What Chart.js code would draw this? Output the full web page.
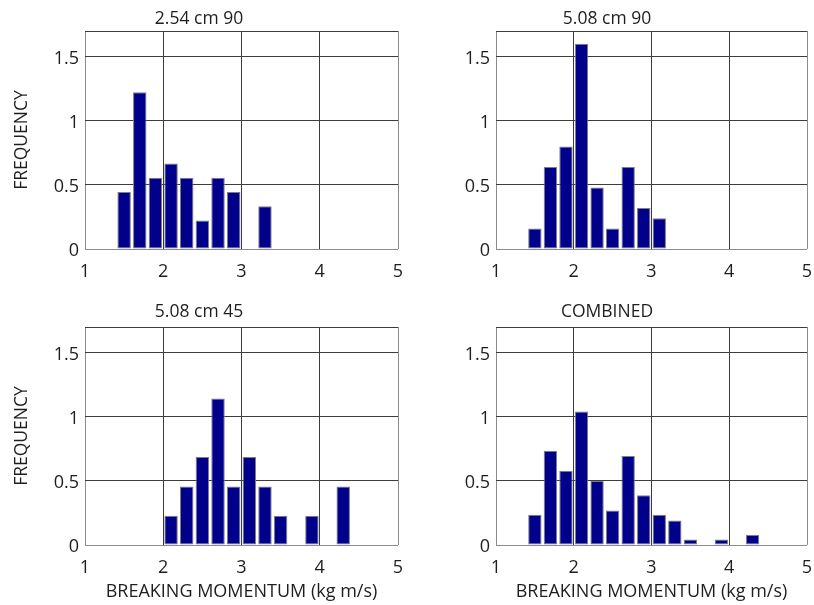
<!DOCTYPE html>
<html>
<head>
<meta charset="utf-8">
<script src="https://cdn.jsdelivr.net/npm/chart.js@4.4.1/dist/chart.umd.min.js"></script>
<style>
  html, body { margin: 0; padding: 0; background: #ffffff; }
  #wrap { position: relative; width: 814px; height: 605px; overflow: hidden; }
  canvas { position: absolute; }
</style>
</head>
<body>
<div id="wrap">
  <canvas id="c1" width="407" height="300" style="left:0px;top:0px"></canvas>
  <canvas id="c2" width="407" height="300" style="left:407px;top:0px"></canvas>
  <canvas id="c3" width="407" height="305" style="left:0px;top:300px"></canvas>
  <canvas id="c4" width="407" height="305" style="left:407px;top:300px"></canvas>
</div>
<script>
// Bin centres (breaking momentum, kg m/s)
const bins = [1.5, 1.7, 1.9, 2.1, 2.3, 2.5, 2.7, 2.9, 3.1, 3.3, 3.5, 3.7, 3.9, 4.1, 4.3];

// Frequencies
const freq2540cm90 = [0.444, 1.222, 0.556, 0.667, 0.556, 0.222, 0.556, 0.444, 0, 0.333, 0, 0, 0, 0, 0];
const freq508cm90  = [0.16, 0.64, 0.80, 1.60, 0.48, 0.16, 0.64, 0.32, 0.24, 0, 0, 0, 0, 0, 0];
const freq508cm45  = [0, 0, 0, 0.229, 0.457, 0.686, 1.143, 0.457, 0.686, 0.457, 0.229, 0, 0.229, 0, 0.457];
const freqCombined = [0.236, 0.735, 0.579, 1.042, 0.499, 0.270, 0.694, 0.387, 0.236, 0.192, 0.042, 0, 0.042, 0, 0.078];

const titles = ['2.54 cm 90', '5.08 cm 90', '5.08 cm 45', 'COMBINED'];
const xTicks = [1, 2, 3, 4, 5];
const yTicks = [0, 0.5, 1, 1.5, 1.7];
const yTickLabels = ['0', '0.5', '1', '1.5', ''];
const yLabel = 'FREQUENCY';
const xLabel = 'BREAKING MOMENTUM (kg m/s)';

const FONT = "'Open Sans', 'DejaVu Sans', sans-serif";
const TEXT = '#1e1e1e';

function makeChart(id, title, values, opts) {
  const ctx = document.getElementById(id);
  const data = bins.map((b, i) => ({ x: b, y: values[i] }));
  return new Chart(ctx, {
    type: 'bar',
    data: {
      datasets: [{
        data: data,
        backgroundColor: '#00008b',
        borderColor: '#7f7f7f',
        borderWidth: 1,
        borderSkipped: false,
        categoryPercentage: 1.0,
        barPercentage: 0.86
      }]
    },
    options: {
      responsive: false,
      animation: false,
      devicePixelRatio: 1,
      layout: { padding: { left: 0, right: opts.padRight, top: 0, bottom: 0 } },
      plugins: {
        legend: { display: false },
        tooltip: { enabled: false },
        title: {
          display: true,
          text: title,
          color: TEXT,
          font: { family: FONT, size: 17.5, lineHeight: '20px', weight: 'normal' },
          padding: opts.titlePad
        }
      },
      scales: {
        x: {
          type: 'linear',
          min: 1,
          max: 5,
          offset: false,
          afterBuildTicks: s => { s.ticks = xTicks.map(v => ({ value: v })); },
          afterFit: s => { s.height = opts.xHeight; s.paddingLeft = 0; s.paddingRight = 0; },
          ticks: {
            color: TEXT,
            font: { family: FONT, size: 18 },
            padding: 12,
            maxRotation: 0,
            callback: v => String(v)
          },
          grid: {
            offset: false,
            drawTicks: false,
            lineWidth: 1,
            color: c => (c.tick && (c.tick.value === 1 || c.tick.value === 5)) ? '#8c8c8c' : '#3c3c3c'
          },
          border: { display: false },
          title: {
            display: opts.showX,
            text: xLabel,
            color: TEXT,
            font: { family: FONT, size: 18, lineHeight: '20px' },
            padding: { top: 0, bottom: 3 }
          }
        },
        y: {
          type: 'linear',
          min: 0,
          max: 1.7,
          afterBuildTicks: s => { s.ticks = yTicks.map(v => ({ value: v })); },
          afterFit: s => { s.width = opts.yWidth; },
          ticks: {
            color: TEXT,
            font: { family: FONT, size: 18 },
            padding: 6,
            labelOffset: 2,
            callback: (v) => {
              const i = yTicks.indexOf(v);
              return i >= 0 ? yTickLabels[i] : '';
            }
          },
          grid: {
            drawTicks: false,
            lineWidth: 1,
            color: c => (c.tick && c.tick.value === 0) ? '#8c8c8c' : '#3c3c3c'
          },
          border: { display: false },
          title: {
            display: opts.showY,
            text: yLabel,
            color: TEXT,
            font: { family: FONT, size: 17.5, lineHeight: '20px' },
            padding: { top: 12, bottom: 0 }
          }
        }
      }
    }
  });
}

makeChart('c1', titles[0], freq2540cm90, { padRight: 9, yWidth: 85, xHeight: 51, showX: false, showY: true, titlePad: { top: 9, bottom: 2 } });
makeChart('c2', titles[1], freq508cm90,  { padRight: 7, yWidth: 89, xHeight: 51, showX: false, showY: false, titlePad: { top: 9, bottom: 2 } });
makeChart('c3', titles[2], freq508cm45,  { padRight: 9, yWidth: 85, xHeight: 60, showX: true,  showY: true, titlePad: { top: 2, bottom: 5 } });
makeChart('c4', titles[3], freqCombined, { padRight: 7, yWidth: 89, xHeight: 60, showX: true,  showY: false, titlePad: { top: 2, bottom: 5 } });
</script>
</body>
</html>
